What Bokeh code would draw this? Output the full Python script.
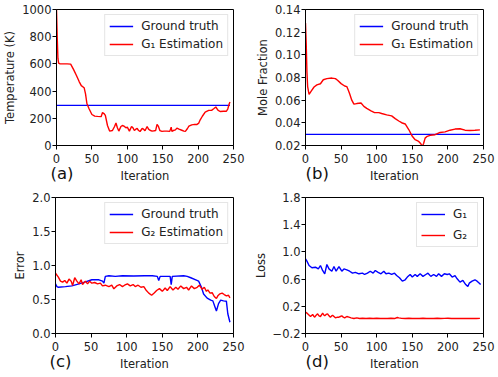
from bokeh.plotting import figure
from bokeh.layouts import column, row
from bokeh.models import (Range1d, FixedTicker, CustomJSTickFormatter, Legend, LegendItem, Title)
from bokeh.embed import file_html
from bokeh.resources import INLINE

# ---------------- data ----------------
x_ticks = [0, 50, 100, 150, 200, 250]
panel_tags = ["(a)", "(b)", "(c)", "(d)"]

# (a) temperature
temp_iter = [0, 1, 2, 3, 5, 10, 15, 20, 24, 28, 32, 35, 39, 41, 43, 46, 50, 54, 58, 63, 65, 67, 69, 72,
             75, 79, 82, 84, 86, 88, 91, 93, 96, 98, 100, 103, 106, 108, 110, 112, 114, 116, 118, 121,
             123, 125, 128, 130, 132, 135, 138, 140, 142, 144, 146, 149, 152, 156, 160, 162, 163, 165,
             168, 170, 173, 177, 180, 182, 185, 187, 191, 195, 198, 201, 203, 206, 210, 215, 219, 222,
             225, 228, 231, 236, 240, 242, 244, 245]
temp_est = [1000, 800, 640, 605, 600, 600, 600, 598, 560, 516, 470, 440, 425, 380, 307, 270, 228, 216,
            214, 212, 242, 235, 221, 147, 106, 110, 140, 165, 130, 106, 140, 147, 140, 130, 135, 106,
            140, 130, 110, 120, 125, 110, 103, 125, 120, 108, 140, 120, 112, 106, 108, 110, 155, 140,
            110, 104, 106, 106, 104, 135, 104, 110, 115, 128, 120, 112, 106, 104, 125, 142, 152, 155,
            154, 165, 189, 215, 246, 258, 258, 270, 283, 260, 250, 252, 252, 270, 307, 320]
temp_truth = 295
temp_yticks = [0, 200, 400, 600, 800, 1000]

# (b) mole fraction
mole_iter = [0, 1, 2, 3, 5, 8, 12, 16, 21, 25, 30, 37, 42, 45, 50, 55, 58, 60, 62, 65, 68, 72, 78, 82,
             86, 92, 97, 103, 107, 114, 121, 126, 131, 135, 140, 145, 150, 154, 159, 162, 164, 166,
             168, 171, 175, 182, 189, 196, 203, 210, 217, 224, 231, 238, 245]
mole_est = [0.128, 0.11, 0.085, 0.072, 0.065, 0.068, 0.0716, 0.0735, 0.0745, 0.078, 0.079, 0.0795,
            0.079, 0.0776, 0.0746, 0.0725, 0.072, 0.069, 0.0656, 0.06, 0.0565, 0.057, 0.0575, 0.0545,
            0.0527, 0.0506, 0.049, 0.049, 0.0482, 0.047, 0.0461, 0.0437, 0.0416, 0.0401, 0.039,
            0.0341, 0.0281, 0.0251, 0.0236, 0.0215, 0.019, 0.022, 0.0265, 0.0281, 0.029, 0.0295,
            0.0315, 0.032, 0.0335, 0.0345, 0.0348, 0.0335, 0.0333, 0.0335, 0.0338]
mole_truth = 0.0298
mole_yticks = [0.02, 0.04, 0.06, 0.08, 0.10, 0.12, 0.14]

# (c) error
err_truth_iter = [0, 2, 4, 14, 23, 33, 42, 51, 61, 66, 68, 70, 75, 84, 94, 110, 125, 136, 143, 145,
                  147, 161, 162.5, 164, 180, 185, 190, 197, 201, 205, 208, 213, 218, 221, 224, 226,
                  229, 232, 236, 240, 242, 245]
err_truth = [0.73, 0.69, 0.68, 0.69, 0.70, 0.73, 0.76, 0.79, 0.79, 0.77, 0.74, 0.84, 0.85, 0.84,
             0.85, 0.845, 0.85, 0.85, 0.84, 0.78, 0.84, 0.84, 0.72, 0.84, 0.85, 0.84, 0.82, 0.79,
             0.77, 0.68, 0.58, 0.52, 0.49, 0.48, 0.39, 0.33, 0.44, 0.49, 0.48, 0.475, 0.29, 0.166]
err_est_iter = [0, 4, 7, 10, 13, 16, 19, 22, 24, 27, 30, 33, 36, 38, 42, 45, 48, 51, 55, 59, 63, 66,
                70, 75, 79, 82, 86, 90, 94, 97, 101, 105, 109, 112, 116, 120, 124, 127, 131, 135,
                139, 142, 146, 150, 154, 157, 161, 165, 169, 172, 176, 180, 184, 187, 191, 195, 199,
                202, 206, 209, 212, 214, 217, 220, 223, 226, 228, 231, 234, 237, 240, 243, 245]
err_est = [0.887, 0.83, 0.77, 0.755, 0.78, 0.74, 0.80, 0.77, 0.706, 0.82, 0.77, 0.73, 0.79, 0.72,
           0.77, 0.73, 0.77, 0.74, 0.75, 0.73, 0.74, 0.70, 0.71, 0.69, 0.71, 0.657, 0.70, 0.72,
           0.69, 0.71, 0.73, 0.70, 0.72, 0.69, 0.71, 0.68, 0.69, 0.64, 0.594, 0.563, 0.60, 0.632,
           0.66, 0.62, 0.67, 0.632, 0.69, 0.64, 0.68, 0.65, 0.70, 0.66, 0.68, 0.64, 0.70, 0.66,
           0.68, 0.71, 0.65, 0.68, 0.62, 0.64, 0.594, 0.60, 0.544, 0.515, 0.554, 0.583, 0.594,
           0.573, 0.554, 0.563, 0.524]
err_yticks = [0.0, 0.5, 1.0, 1.5, 2.0]

# (d) loss
loss_g1_iter = [0, 2, 5, 9, 14, 18, 21, 24, 27, 30, 33, 37, 40, 43, 47, 51, 54, 58, 62, 66, 70, 75,
                80, 83, 87, 91, 95, 98, 102, 106, 110, 113, 117, 121, 125, 128, 132, 136, 140, 143,
                147, 150, 154, 157, 161, 165, 169, 172, 176, 180, 184, 187, 191, 195, 199, 202, 206,
                210, 213, 217, 221, 225, 228, 230, 234, 238, 241, 243, 246]
loss_g1 = [0.898, 0.864, 0.80, 0.766, 0.775, 0.75, 0.80, 0.727, 0.678, 0.815, 0.75, 0.716, 0.785,
           0.716, 0.785, 0.716, 0.75, 0.736, 0.716, 0.687, 0.70, 0.678, 0.687, 0.668, 0.687, 0.716,
           0.687, 0.727, 0.70, 0.678, 0.716, 0.678, 0.687, 0.668, 0.687, 0.653, 0.62, 0.57, 0.59,
           0.63, 0.668, 0.63, 0.668, 0.64, 0.678, 0.64, 0.668, 0.687, 0.64, 0.668, 0.64, 0.678,
           0.64, 0.678, 0.668, 0.678, 0.63, 0.65, 0.604, 0.555, 0.58, 0.52, 0.49, 0.54, 0.57,
           0.59, 0.57, 0.55, 0.52]
loss_g2_iter = [0, 2, 4, 6, 7, 9, 10, 12, 13, 15, 17, 19, 21, 23, 24, 26, 27, 29, 31, 33, 35, 37, 38,
                40, 42, 45, 47, 49, 51, 53, 55, 58, 61, 64, 68, 72, 76, 80, 85, 90, 95, 100, 105,
                110, 115, 120, 125, 129, 131, 135, 140, 145, 150, 155, 160, 165, 170, 175, 180, 185,
                190, 195, 200, 205, 210, 215, 220, 225, 230, 235, 240, 245]
loss_g2 = [0.113, 0.10, 0.08, 0.06, 0.05, 0.07, 0.08, 0.05, 0.04, 0.07, 0.09, 0.06, 0.05, 0.08, 0.10,
           0.07, 0.06, 0.08, 0.09, 0.06, 0.04, 0.06, 0.07, 0.05, 0.03, 0.04, 0.04, 0.05, 0.06, 0.04,
           0.03, 0.05, 0.04, 0.03, 0.02, 0.03, 0.02, 0.025, 0.02, 0.025, 0.02, 0.025, 0.02, 0.022,
           0.02, 0.025, 0.02, 0.035, 0.03, 0.022, 0.02, 0.025, 0.02, 0.022, 0.02, 0.025, 0.02,
           0.022, 0.02, 0.025, 0.02, 0.022, 0.025, 0.02, 0.02, 0.022, 0.02, 0.02, 0.022, 0.02,
           0.02, 0.022]
loss_yticks = [-0.2, 0.2, 0.6, 1.0, 1.4, 1.8]

# ---------------- styling helpers ----------------
FONT = "DejaVu Sans"
BLUE = "#0000ff"
RED = "#ff0000"


def make_fig(width, height, left, right, top, bottom, yr, yticks, ylabel, digits):
    p = figure(width=width, height=height, output_backend="svg", toolbar_location=None,
               x_range=Range1d(0, 250), y_range=Range1d(*yr),
               min_border_left=left, min_border_right=right,
               min_border_top=top, min_border_bottom=bottom)
    p.grid.visible = False
    p.outline_line_color = "black"
    p.outline_line_width = 1
    p.background_fill_color = "white"
    p.border_fill_color = "white"
    for ax in (p.xaxis[0], p.yaxis[0]):
        ax.major_tick_in = 0
        ax.major_tick_out = 4
        ax.minor_tick_line_color = None
        ax.axis_line_color = "black"
        ax.major_tick_line_color = "black"
        ax.major_label_text_font = FONT
        ax.major_label_text_font_size = "11.5px"
        ax.major_label_text_color = "#222222"
        ax.axis_label_text_font = FONT
        ax.axis_label_text_font_size = "11.5px"
        ax.axis_label_text_font_style = "normal"
        ax.axis_label_text_color = "#222222"
    p.xaxis.ticker = FixedTicker(ticks=x_ticks)
    p.xaxis.axis_label = "Iteration"
    p.xaxis.major_label_standoff = 4
    p.xaxis.axis_label_standoff = 3
    p.yaxis.ticker = FixedTicker(ticks=yticks)
    p.yaxis.formatter = CustomJSTickFormatter(
        code="return tick.toFixed(%d).replace('-', '\\u2212');" % digits)
    p.yaxis.axis_label = ylabel
    p.yaxis.major_label_standoff = 1
    p.yaxis.axis_label_standoff = 2
    return p


def add_legend(p, items, spacing=4):
    lg = Legend(items=[LegendItem(label=l, renderers=[r]) for l, r in items],
                location="top_right", margin=5, padding=4, spacing=spacing,
                glyph_width=24, glyph_height=14, label_height=14, label_standoff=8,
                label_text_font=FONT, label_text_font_size="12px", label_text_color="#222222",
                border_line_color="#cccccc", border_line_width=1,
                background_fill_color="white", background_fill_alpha=0.8)
    p.add_layout(lg)


def add_tag(p, text, offset):
    # panel tag as a title below the x axis, pulled up beside the axis label
    t = Title(text=text, align="left", vertical_align="top", offset=offset, standoff=-44,
              text_font=FONT, text_font_size="16.5px", text_font_style="normal",
              text_color="#111111")
    p.add_layout(t, "below")


LW = 1.4

# (a)
pa = make_fig(250, 185, 55, 17, 9, 40, (0, 1000), temp_yticks, "Temperature (K)", 0)
ra1 = pa.line([0, 245], [temp_truth, temp_truth], color=BLUE, line_width=LW)
ra2 = pa.line(temp_iter, temp_est, color=RED, line_width=LW)
add_legend(pa, [("Ground truth", ra1), ("G\u2081 Estimation", ra2)])
add_tag(pa, panel_tags[0], -6)

# (b)
pb = make_fig(248, 185, 55, 15, 9, 40, (0.02, 0.14), mole_yticks, "Mole Fraction", 2)
rb1 = pb.line([0, 245], [mole_truth, mole_truth], color=BLUE, line_width=LW)
rb2 = pb.line(mole_iter, mole_est, color=RED, line_width=LW)
add_legend(pb, [("Ground truth", rb1), ("G\u2081 Estimation", rb2)])
add_tag(pb, panel_tags[1], 0)

# (c)
pc = make_fig(250, 192, 55, 17, 12, 44, (0.0, 2.0), err_yticks, "Error", 1)
rc1 = pc.line(err_truth_iter, err_truth, color=BLUE, line_width=LW)
rc2 = pc.line(err_est_iter, err_est, color=RED, line_width=LW)
add_legend(pc, [("Ground truth", rc1), ("G\u2082 Estimation", rc2)])
add_tag(pc, panel_tags[2], -6)

# (d)
pd_ = make_fig(248, 192, 55, 15, 12, 44, (-0.2, 1.8), loss_yticks, "Loss", 1)
rd1 = pd_.line(loss_g1_iter, loss_g1, color=BLUE, line_width=LW)
rd2 = pd_.line(loss_g2_iter, loss_g2, color=RED, line_width=LW)
add_legend(pd_, [("G\u2081", rd1), ("G\u2082", rd2)], spacing=7)
add_tag(pd_, panel_tags[3], 0)

layout = column(row(pa, pb), row(pc, pd_))
open("out.html", "w").write(file_html(layout, INLINE))
